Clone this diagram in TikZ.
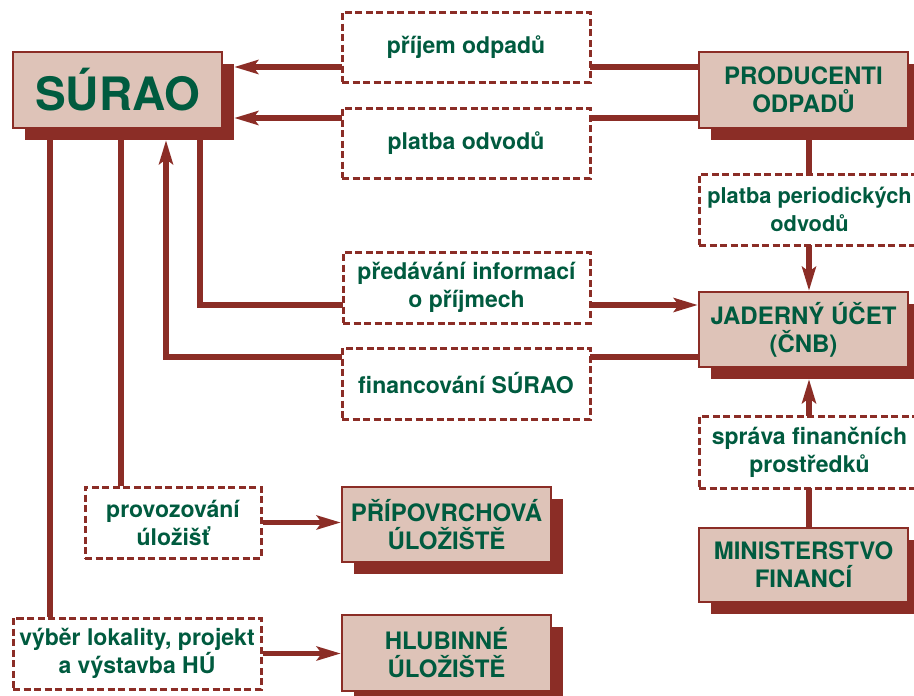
\documentclass[tikz,border=0pt]{standalone}
\usepackage{fontspec}
\setmainfont{TeX Gyre Heros}
\usetikzlibrary{arrows.meta,calc}
\definecolor{dred}{HTML}{8B2D26}
\definecolor{bfill}{HTML}{DEC3B8}
\definecolor{tgreen}{HTML}{005B3F}
\pgfdeclarelayer{bg}
\pgfsetlayers{bg,main}
\begin{document}
\begin{tikzpicture}[x=1pt,y=-1pt,
  mainbox/.style={draw=dred, fill=bfill, line width=2.5pt, inner sep=0pt, align=center, text=tgreen, font=\bfseries\fontsize{24}{28}\selectfont},
  shadowbox/.style={fill=dred, inner sep=0pt},
  labelbox/.style={draw=dred, fill=white, line width=3pt, dash pattern=on 7pt off 3.5pt, inner sep=0pt, align=center, text=tgreen, font=\bfseries\fontsize{23}{28}\selectfont},
  conn/.style={draw=dred, line width=5.5pt},
  arr/.style={conn, -{Stealth[length=24pt,width=14pt,inset=5pt]}},
]
\useasboundingbox (0,0) rectangle (914,696);
\clip (0,0) rectangle (914,696);

% shadows
\node[shadowbox, minimum width=209pt, minimum height=76pt] (surS) at (129.5,102) {};
\node[shadowbox, minimum width=209pt, minimum height=76pt] (prodS) at (815.5,102) {};
\node[shadowbox, minimum width=209pt, minimum height=75pt] (jadS) at (815.5,341.5) {};
\node[shadowbox, minimum width=209pt, minimum height=74pt] (mfS) at (815.5,577) {};
\node[shadowbox, minimum width=209pt, minimum height=75pt] (priS) at (458.5,536.5) {};
\node[shadowbox, minimum width=209pt, minimum height=76pt] (hluS) at (458.5,665) {};

% main boxes
\node[mainbox, minimum width=209pt, minimum height=76pt, font=\bfseries\fontsize{46}{50}\selectfont] (sur) at (117.5,90) {SÚRAO};
\node[mainbox, minimum width=209pt, minimum height=76pt] (prod) at (803.5,90) {PRODUCENTI\\ODPADŮ};
\node[mainbox, minimum width=209pt, minimum height=75pt] (jad) at (803.5,329.5) {JADERNÝ ÚČET\\(ČNB)};
\node[mainbox, minimum width=209pt, minimum height=74pt] (mf) at (803.5,565) {MINISTERSTVO\\FINANCÍ};
\node[mainbox, minimum width=209pt, minimum height=75pt] (pri) at (446.5,524.5) {PŘÍPOVRCHOVÁ\\ÚLOŽIŠTĚ};
\node[mainbox, minimum width=209pt, minimum height=76pt] (hlu) at (446.5,653) {HLUBINNÉ\\ÚLOŽIŠTĚ};

% label boxes
\node[labelbox, minimum width=248pt, minimum height=70pt] (l1) at (466,47) {příjem odpadů};
\node[labelbox, minimum width=248pt, minimum height=70pt] (l2) at (466,143) {platba odvodů};
\node[labelbox, minimum width=247pt, minimum height=71pt] (l3) at (466.5,287.5) {předávání informací\\o příjmech};
\node[labelbox, minimum width=248pt, minimum height=71pt] (l4) at (466,383.5) {financování SÚRAO};
\node[labelbox, minimum width=221pt, minimum height=71pt, font=\bfseries\fontsize{21.8}{28}\selectfont] (l5) at (809.5,209.5) {platba periodických\\odvodů};
\node[labelbox, minimum width=221pt, minimum height=72pt] (l6) at (809.5,452) {správa finančních\\prostředků};
\node[labelbox, minimum width=176pt, minimum height=71pt] (l7) at (173,522.5) {provozování\\úložišť};
\node[labelbox, minimum width=248pt, minimum height=71pt] (l8) at (137,653.5) {výběr lokality, projekt\\a výstavba HÚ};

% guide coordinates
\coordinate (y1) at (0,67);
\coordinate (y2) at (0,118);
\coordinate (y3) at (0,305);
\coordinate (y4) at (0,357);
\coordinate (v1) at (809,0);
\coordinate (x50) at (50,0);
\coordinate (x121) at (121,0);
\coordinate (x166) at (166,0);
\coordinate (x200) at (200,0);

\begin{pgfonlayer}{bg}
\draw[arr] (prod.west |- y1) -- (surS.east |- y1);
\draw[arr] (prod.west |- y2) -- (surS.east |- y2);
\draw[arr] (prodS.south -| v1) -- (jad.north -| v1);
\draw[arr] (surS.south -| x200) |- (jad.west |- y3);
\draw[arr] (jad.west |- y4) -| (surS.south -| x166);
\draw[arr] (mf.north -| v1) -- (jadS.south -| v1);
\draw[conn] (surS.south -| x121) -- (l7.north -| x121);
\draw[arr] (l7.east) -- (pri.west |- l7.east);
\draw[conn] (surS.south -| x50) -- (l8.north -| x50);
\draw[arr] (l8.east) -- (hlu.west |- l8.east);
\end{pgfonlayer}
\end{tikzpicture}
\end{document}
